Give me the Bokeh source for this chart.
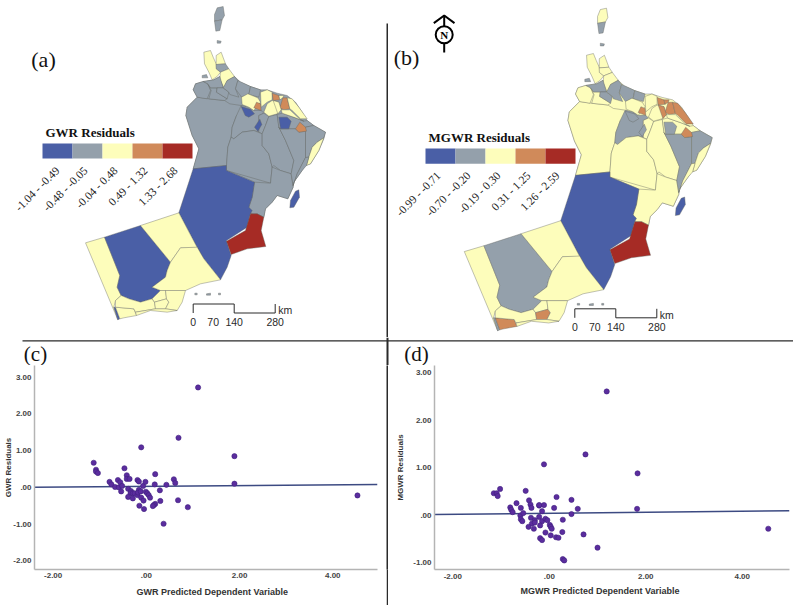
from bokeh.plotting import figure
from bokeh.layouts import column, row
from bokeh.models import ColumnDataSource, Range1d, FixedTicker, Title
from bokeh.core.properties import value
from bokeh.embed import file_html
from bokeh.resources import INLINE

# ---------- palette classes ----------
class_colors = ["#4A5FA6", "#94A0AB", "#FDFDBB", "#D08A5A", "#A62B25"]
labels_a = ["-1.04 - -0.49", "-0.48 - -0.05", "-0.04 - 0.48", "0.49 - 1.32", "1.33 - 2.68"]
labels_b = ["-0.99 - -0.71", "-0.70 - -0.20", "-0.19 - 0.30", "0.31 - 1.25", "1.26 - 2.59"]

# ---------- map outlines (map units) ----------
mainland = [(578,505),(595,445),(575,405),(556,345),(560,320),(590,290),(578,268),(585,250),(608,243),(640,238),
            (658,228),(680,240),(702,228),(720,245),(750,258),(780,268),(800,268),(830,278),(860,285),(885,305),
            (905,335),(920,360),(940,375),(975,395),(970,415),(955,450),(930,490),(915,495),(905,510),(880,545),
            (878,560),(862,595),(830,585),(815,605),(795,625),(790,650),(750,640),(745,620),(755,590),(762,545),
            (678,510),(678,495)]

regions = [
    [(650,22),(668,18),(672,45),(665,58),(642,62),(642,42)],
    [(642,62),(665,58),(658,90),(646,92)],
    [(650,120),(662,122),(660,128),(650,128)],
    [(610,155),(630,150),(638,170),(647,190),(648,205),(660,215),(650,228),(635,238),(625,215),(612,190)],
    [(647,165),(662,155),(675,190),(647,192)],
    [(647,192),(675,190),(685,205),(660,215),(647,205)],
    [(660,215),(685,205),(702,228),(680,240),(670,262),(658,235)],
    [(605,225),(618,222),(622,232),(605,232)],
    [(578,505),(595,445),(575,405),(556,345),(560,320),(590,290),(625,295),(672,300),(688,310),(722,315),(735,320),
     (708,345),(695,380),(692,410),(682,440),(678,495)],
    [(585,250),(608,243),(622,250),(630,270),(620,295),(590,290),(578,268)],
    [(622,250),(630,262),(650,262),(648,275),(680,295),(672,300),(625,295),(632,270)],
    [(608,243),(640,238),(658,228),(668,262),(650,262),(630,262),(622,250)],
    [(650,262),(668,262),(685,275),(680,295),(648,275)],
    [(668,262),(680,240),(702,228),(712,240),(705,265),(715,290),(688,282),(685,275)],
    [(712,240),(750,258),(745,282),(723,290),(705,265)],
    [(750,258),(780,268),(775,290),(745,282)],
    [(708,345),(722,315),(745,320),(760,330),(782,330),(790,338),(775,345),(775,395),(760,390),(725,395),(700,415),(692,410),(695,380)],
    [(775,345),(790,338),(805,348),(795,375),(785,400),(775,395)],
    [(682,440),(692,410),(700,415),(725,395),(760,390),(785,400),(785,435),(805,460),(815,500),(810,548),(678,510),(678,495)],
    [(785,435),(785,400),(795,375),(805,348),(830,342),(835,380),(855,420),(880,480),(872,520),(840,510),(820,495),(815,500),(805,460)],
    [(810,548),(815,500),(840,510),(872,520),(878,560),(862,595),(830,585),(815,605),(795,625),(790,650),(770,640),(750,640),(745,620),(755,590),(762,545)],
    [(830,342),(845,338),(885,352),(910,362),(920,360),(940,375),(915,380),(885,385),(860,385),(838,385),(835,380)],
    [(835,380),(838,385),(860,385),(885,385),(895,395),(915,392),(915,440),(915,471),(890,520),(878,555),(872,520),(880,480),(855,420)],
    [(915,380),(940,375),(975,395),(970,412),(950,425),(935,440),(925,470),(915,471),(915,392)],
    [(970,412),(955,450),(930,490),(918,495),(925,470),(935,440),(950,425)],
    [(915,471),(925,470),(918,495),(905,510),(880,545),(878,555),(890,520)],
    [(723,290),(742,280),(772,292),(780,305),(760,330),(745,320),(725,312)],
    [(780,275),(800,268),(815,275),(815,298),(800,305),(782,320)],
    [(815,278),(835,285),(838,298),(818,300)],
    [(790,335),(800,310),(815,300),(835,305),(842,328),(830,340),(805,347)],
    [(835,285),(850,285),(847,292),(838,298)],
    [(838,322),(847,292),(860,292),(868,325),(850,328)],
    [(860,292),(875,295),(895,320),(920,355),(900,355),(875,330),(868,325)],
    [(842,328),(868,328),(900,358),(910,362),(885,352),(845,338)],
    [(760,322),(768,305),(780,310),(782,330)],
    [(818,300),(835,305),(842,328),(832,340),(825,320)],
    [(722,318),(750,326),(762,340),(745,350),(734,345)],
    [(762,380),(778,356),(784,372),(772,392)],
    [(835,350),(860,350),(872,362),(865,385),(840,385)],
    [(885,385),(898,365),(915,380),(918,392),(895,395)],
    [(885,572),(895,568),(897,590),(880,620),(868,622),(870,600)],
    [(578,505),(678,495),(678,510),(762,545),(755,590),(745,620),(755,630),(750,640),(740,680),(678,720),(692,765),(680,800),(660,838),(610,775),(600,760),(535,637)],
    [(750,640),(770,640),(790,650),(782,690),(796,738),(740,745),(692,762),(678,722),(735,690)],
    [(255,727),(312,710),(358,825),(350,860),(362,885),(345,900),(340,920),(352,958)],
    [(312,710),(420,675),(510,785),(500,810),(495,830),(455,860),(480,870),(455,895),(420,905),(385,895),(362,885),(350,860),(358,825)],
    [(420,675),(535,637),(600,760),(585,742),(540,742),(510,785)],
    [(510,785),(540,742),(590,740),(610,775),(660,838),(600,850),(555,870),(495,870),(480,870),(455,860),(495,830),(500,810)],
    [(340,920),(345,920),(358,955),(352,958)],
    [(345,920),(400,925),(408,945),(370,952),(358,955)],
    [(345,900),(362,885),(385,895),(420,905),(455,895),(462,905),(465,925),(405,935),(400,925),(345,920)],
    [(455,895),(480,870),(495,870),(498,895),(462,905)],
    [(462,905),(498,895),(505,905),(495,925),(465,925)],
    [(495,870),(555,870),(545,905),(530,930),(495,925),(505,905),(498,895)],
    [(405,935),(465,925),(495,925),(530,930),(500,935),(450,930),(408,945)],
    [(583,878),(590,878),(590,883),(583,883)],
    [(618,880),(630,878),(630,884),(618,884)],
    [(654,878),(660,878),(660,883),(654,883)],
]
region_class_a = [1,1,1,2,2,1,2,1,1,1,1,1,1,1,1,1,
                  1,1,1,1,1,1,1,1,2,1,
                  2,2,3,2,2,3,2,2,3,2,
                  0,0,0,3,0,0,4,2,0,2,2,0,2,2,2,2,2,2,1,1,1]
region_class_b = [2,1,1,2,2,2,2,1,2,2,2,1,1,1,1,1,
                  1,2,2,2,2,2,1,1,2,2,
                  2,2,3,2,3,3,3,2,3,3,
                  1,1,1,3,0,0,4,2,1,2,2,1,3,2,2,3,2,2,1,1,1]
assert len(regions) == len(region_class_a) == len(region_class_b), (len(regions), len(region_class_a), len(region_class_b))

# ---------- scatter data ----------
gwr_pred = [-1.13,-1.08,-1.08,-1.04,-0.79,-0.75,-0.67,-0.61,-0.56,-0.59,-0.52,-0.54,-0.47,-0.42,-0.42,-0.36,-0.39,-0.33,-0.34,-0.39,
            -0.29,-0.25,-0.29,-0.19,-0.16,-0.18,-0.19,-0.16,-0.12,-0.11,-0.06,-0.15,-0.05,-0.07,-0.02,-0.01,0.02,0.05,0.08,-0.11,
            0.19,0.18,0.29,0.30,0.19,0.16,0.14,0.43,0.59,0.62,0.68,0.69,0.89,0.37,1.11,1.89,1.89,4.53]
gwr_res = [0.67,0.48,0.43,0.39,0.15,0.08,0.01,0.20,0.14,0.0,0.04,-0.11,0.52,0.33,0.23,0.23,-0.04,-0.10,-0.16,-0.26,
           -0.16,-0.16,-0.30,-0.21,-0.07,-0.14,0.20,0.16,-0.11,-0.28,-0.36,-0.50,-0.59,0.04,0.15,-0.12,-0.16,-0.21,-0.28,1.09,
           0.36,0.08,-0.08,-0.37,-0.45,-0.48,-0.51,0.07,0.22,0.12,-0.35,1.35,-0.54,-0.99,2.72,0.85,0.10,-0.22]
gwr_fit_x = [-2.40, 4.96]
gwr_fit_y = [0.00, 0.08]

mgwr_pred = [-1.15,-1.09,-1.07,-1.02,-0.81,-0.79,-0.76,-0.68,-0.59,-0.60,-0.59,-0.56,-0.54,-0.49,-0.42,-0.39,-0.37,-0.38,-0.36,-0.43,
             -0.32,-0.30,-0.30,-0.21,-0.21,-0.11,-0.15,-0.21,-0.15,-0.19,-0.08,-0.04,0.01,0.03,0.05,-0.08,0.03,-0.19,-0.15,-0.11,
             0.15,0.10,0.28,0.14,0.19,0.27,0.28,0.31,0.46,0.46,0.59,0.71,0.75,1.00,1.19,1.83,1.82,4.54]
mgwr_res = [0.46,0.46,0.40,0.55,0.16,0.11,0.06,0.25,0.15,-0.01,-0.09,-0.13,0.04,0.51,0.31,0.22,0.15,-0.06,-0.18,-0.25,
            -0.29,-0.11,-0.16,0.20,0.21,0.21,0.08,-0.04,-0.13,-0.22,-0.08,-0.11,-0.21,-0.25,-0.29,-0.37,-0.43,-0.49,-0.53,1.07,
            0.38,0.15,-0.10,-0.47,-0.48,-0.36,-0.93,-0.96,0.32,0.02,0.13,-0.41,1.28,-0.69,2.61,0.88,0.13,-0.29]
mgwr_fit_x = [-2.38, 4.98]
mgwr_fit_y = [0.01, 0.09]

x_ticks = [-2, 0, 2, 4]
tick_text = {-2: "-2.00", -1: "-1.00", 0: ".00", 1: "1.00", 2: "2.00", 3: "3.00", 4: "4.00"}

DARK = "#2a2a2a"
SERIF = "Liberation Serif"
SANS = "Liberation Sans"


def bare(w, h, xr, yr):
    p = figure(width=w, height=h, x_range=Range1d(*xr), y_range=Range1d(*yr), output_backend="svg",
               toolbar_location=None, x_axis_location=None, y_axis_location=None, min_border=0, outline_line_color=None)
    p.grid.visible = False
    return p


def map_panel(w, h, xr, yr, px_x, px_y, classes, base_cls, title, labels, legend, scale, tag):
    p = bare(w, h, xr, yr)
    p.extra_x_ranges["px"] = Range1d(*px_x)
    p.extra_y_ranges["px"] = Range1d(*px_y)
    px = dict(x_range_name="px", y_range_name="px")
    stroke = dict(line_color="#63665f", line_width=0.4)
    p.patch([q[0] for q in mainland], [q[1] for q in mainland], fill_color=class_colors[base_cls], **stroke)
    src = ColumnDataSource(dict(xs=[[q[0] for q in r] for r in regions], ys=[[q[1] for q in r] for r in regions],
                                c=[class_colors[k] for k in classes]))
    p.patches("xs", "ys", source=src, fill_color="c", **stroke)
    # legend
    lx, ly, sw, sh = legend["x"], legend["y"], legend["w"], legend["h"]
    p.quad(left=[lx + i * sw for i in range(5)], right=[lx + (i + 1) * sw for i in range(5)], top=[ly] * 5, bottom=[ly + sh] * 5,
           fill_color=class_colors, line_color=None, **px)
    p.text([lx + 3], [legend["ty"]], text=[title], text_font=value(SERIF), text_font_style="bold", text_font_size="13px",
           text_baseline="middle", text_color="#111111", **px)
    p.text(legend["lx"], [legend["ly"]] * 5, text=labels, text_font=value(SERIF), text_font_size="11.5px", angle=45, angle_units="deg",
           text_align="right", text_baseline="middle", text_color="#222222", **px)
    # scale bar
    sx, sy = scale
    p.line([sx, sx, sx + 41, sx + 41, sx + 82, sx + 82], [sy + 9, sy, sy, sy + 9, sy + 9, sy], line_color=DARK, line_width=1, **px)
    p.text([sx, sx + 20, sx + 41, sx + 82], [sy + 18] * 4, text=["0", "70", "140", "280"], text_font=value(SANS), text_font_size="10.5px",
           text_align="center", text_baseline="middle", text_color=DARK, **px)
    p.text([sx + 85], [sy + 6], text=["km"], text_font=value(SANS), text_font_size="10.5px", text_baseline="middle", text_color=DARK, **px)
    # panel tag
    p.text([tag[1]], [tag[2]], text=[tag[0]], text_font=value(SERIF), text_font_size="22px", text_align="center", text_baseline="middle",
           text_color="#111111", **px)
    return p, px


a, apx = map_panel(388, 337, (0, 1164), (1011, 0), (0, 388), (337, 0), region_class_a, 1, "GWR Residuals", labels_a,
                   dict(x=42, y=143, w=30, h=15, ty=132, lx=[57, 85, 115, 145, 175], ly=168), (192.7, 303.5), ("(a)", 43, 59))
b, bpx = map_panel(405, 337, (34.85, 1211.1), (977.3, -4.4), (388, 793), (337, 0), region_class_b, 2, "MGWR Residuals", labels_b,
                   dict(x=425, y=148, w=30, h=15.3, ty=136.7, lx=[438, 468, 498, 528, 557], ly=173), (574.3, 308.3), ("(b)", 406, 57))
# north arrow
b.line([443.7, 443.7], [15, 26], line_color="#000000", line_width=2, **bpx)
b.line([443.7, 443.7], [43, 52], line_color="#000000", line_width=2, **bpx)
b.line([433.3, 443.7, 454], [22.6, 15, 22.6], line_color="#000000", line_width=2, **bpx)
b.scatter([443.7], [34.3], size=17, fill_color="white", line_color="#000000", line_width=2, **bpx)
b.text([443.7], [34.5], text=["N"], text_font=value(SERIF), text_font_style="bold", text_font_size="11px", text_align="center",
       text_baseline="middle", text_color="#000000", **bpx)

# divider rule of the composite, upper part
a.quad(left=[386], right=[387.5], top=[23], bottom=[337], fill_color=DARK, line_color=None, **apx)


def scatter_panel(w, h, xr, yr, borders, xs, ys, fx, fy, yticks, ylabel, xlabel, xlabel_left, xlabel_standoff, ystand, xtick_stand):
    left, right, top, bottom = borders
    p = figure(width=w, height=h, x_range=Range1d(*xr), y_range=Range1d(*yr), output_backend="svg", toolbar_location=None,
               min_border_left=left, min_border_right=right, min_border_top=top, min_border_bottom=bottom, outline_line_color=None)
    p.grid.visible = False
    for ax in (p.xaxis[0], p.yaxis[0]):
        ax.major_tick_line_color = None
        ax.minor_tick_line_color = None
        ax.major_tick_in = 0
        ax.major_tick_out = 0
        ax.minor_tick_in = 0
        ax.minor_tick_out = 0
        ax.axis_line_color = "#b4b4b4"
        ax.axis_line_width = 1.5
        ax.major_label_text_font = SANS
        ax.major_label_text_font_style = "bold"
        ax.major_label_text_font_size = "8px"
        ax.major_label_text_color = "#444444"
        ax.major_label_standoff = 3
    p.xaxis.major_label_standoff = xtick_stand
    p.xaxis.ticker = FixedTicker(ticks=x_ticks)
    p.xaxis.major_label_overrides = {k: tick_text[k] for k in x_ticks}
    p.yaxis.ticker = FixedTicker(ticks=yticks)
    p.yaxis.major_label_overrides = {k: tick_text[k] for k in yticks}
    p.yaxis.axis_label = ylabel
    p.yaxis.axis_label_standoff = ystand
    p.yaxis.axis_label_text_font = SANS
    p.yaxis.axis_label_text_font_style = "bold"
    p.yaxis.axis_label_text_font_size = "8px"
    p.yaxis.axis_label_text_color = "#333333"
    p.line(fx, fy, line_color="#3C4A82", line_width=1.5)
    p.scatter(xs, ys, size=5.2, fill_color="#5B2D9E", line_color="#3F2080", line_width=0.6)
    p.add_layout(Title(text=xlabel, align="left", offset=xlabel_left, standoff=xlabel_standoff, text_font=SANS, text_font_style="bold",
                       text_font_size="9px", text_color="#333333"), "below")
    return p


# strip that carries the (c) / (d) tags and the horizontal rule between the rows
strip = bare(793, 28, (0, 793), (365, 337))
strip.quad(left=[22], right=[793], top=[339.8], bottom=[341], fill_color=DARK, line_color=None)
strip.quad(left=[386], right=[388], top=[337], bottom=[365], fill_color=DARK, line_color=None)
strip.text([35, 416], [353, 353], text=["(c)", "(d)"], text_font=value(SERIF), text_font_size="21px", text_align="center",
           text_baseline="middle", text_color="#111111")

c = scatter_panel(386, 240, (-2.40, 4.96), (-2.236, 3.318), (34, 9, 0, 36), gwr_pred, gwr_res, gwr_fit_x, gwr_fit_y,
                  [-2, -1, 0, 1, 2, 3], "GWR Residuals", "GWR Predicted Dependent Variable", 102, 9, -3, 3)
d = scatter_panel(405, 240, (-2.38, 4.98), (-1.151, 3.158), (46, 4, 0, 33), mgwr_pred, mgwr_res, mgwr_fit_x, mgwr_fit_y,
                  [-1, 0, 1, 2, 3], "MGWR Residuals", "MGWR Predicted Dependent Variable", 86, 4, 5, 4)
rule = bare(2, 240, (0, 1), (0, 1))
rule.background_fill_color = DARK
rule.border_fill_color = DARK

root = column(row(a, b, spacing=0), strip, row(c, rule, d, spacing=0), spacing=0)
open("out.html", "w").write(file_html(root, INLINE))
